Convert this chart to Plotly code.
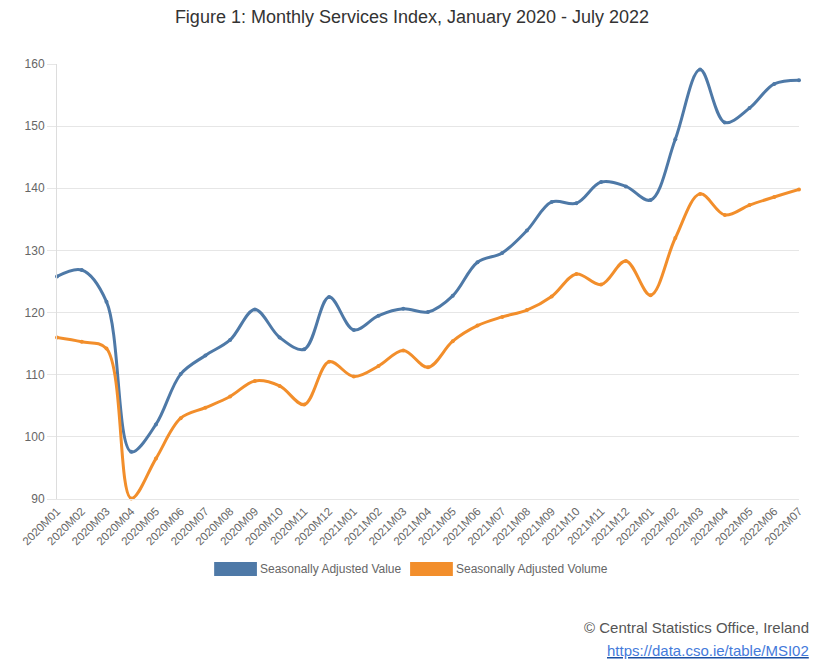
import plotly.graph_objects as go

months = [f"{y}M{m:02d}" for y in (2020, 2021, 2022) for m in range(1, 13)][:31]

value = [125.8, 126.85, 121.75, 97.6, 102.0, 110.1, 113.1, 115.6, 120.5, 116.0, 114.1, 122.5,
         117.2, 119.5, 120.6, 120.1, 122.7, 128.1, 129.6, 133.2, 137.8, 137.6, 141.0, 140.3,
         138.1, 147.9, 159.1, 150.6, 152.9, 156.8, 157.4]
volume = [116.0, 115.3, 114.2, 90.1, 96.5, 103.0, 104.7, 106.5, 109.0, 108.2, 105.2, 112.1,
          109.7, 111.4, 113.9, 111.2, 115.4, 117.9, 119.3, 120.4, 122.6, 126.2, 124.5, 128.3,
          122.8, 132.0, 139.1, 135.7, 137.3, 138.6, 139.8]
series_names = ["Seasonally Adjusted Value", "Seasonally Adjusted Volume"]
colors = ["#4E79A7", "#F28E2B"]

# page body has an 8px margin; work in reference-screen pixels and shift
OFF = 8
W, H = 832 - OFF, 672 - OFF
PL, PR, PT, PB = 53, 799, 64, 499  # plot area in screen pixels
L, T = PL - OFF, PT - OFF
R, B = W - (PR - OFF), H - (PB - OFF)
PW, PH = PR - PL, PB - PT

def px(x):
    return (x - PL) / PW

def py(y):
    return (PB - y) / PH

FONT = "Liberation Sans, Arial, sans-serif"

fig = go.Figure()
for name, vals, c in zip(series_names, [value, volume], colors):
    fig.add_trace(go.Scatter(
        x=months, y=vals, name=name, mode="lines+markers",
        line=dict(color=c, width=3, shape="spline", smoothing=1.0),
        marker=dict(color=c, size=4),
        cliponaxis=False, showlegend=False,
    ))

# manual legend
shapes = []
annotations = []
leg = [(211, 254, 255), (408, 451, 452)]
for (x0, x1, tx), name, c in zip(leg, series_names, colors):
    shapes.append(dict(type="rect", xref="paper", yref="paper",
                       x0=px(x0), x1=px(x1), y0=py(576), y1=py(562),
                       fillcolor=c, line=dict(width=0)))
    annotations.append(dict(xref="paper", yref="paper", x=px(tx), y=py(569),
                            xanchor="left", yanchor="middle", showarrow=False,
                            text=name, font=dict(family=FONT, size=12, color="#666666")))

annotations.append(dict(xref="paper", yref="paper", x=px(811), y=py(627),
                        xanchor="right", yanchor="middle", showarrow=False,
                        text="© Central Statistics Office, Ireland",
                        font=dict(family=FONT, size=15, color="#555555")))
annotations.append(dict(xref="paper", yref="paper", x=px(811), y=py(650),
                        xanchor="right", yanchor="middle", showarrow=False,
                        text='<a href="https://data.cso.ie/table/MSI02">https://data.cso.ie/table/MSI02</a>',
                        font=dict(family=FONT, size=15, color="#1a4fa3", lineposition="under")))

fig.update_layout(
    width=W, height=H,
    margin=dict(l=L, r=R, t=T, b=B),
    paper_bgcolor="white", plot_bgcolor="white",
    title=dict(text="Figure 1: Monthly Services Index, January 2020 - July 2022",
               x=(412 - OFF) / W, xanchor="center", y=1, yanchor="top", pad=dict(t=2),
               font=dict(family=FONT, size=18, color="#333333")),
    shapes=shapes, annotations=annotations,
    font=dict(family=FONT),
)
fig.update_xaxes(
    type="category", range=[0, len(months) - 1],
    tickangle=-45, tickfont=dict(family=FONT, size=11.5, color="#666666"),
    showgrid=False, showline=True, linecolor="#e6e6e6", linewidth=1,
    ticks="", zeroline=False,
)
fig.update_yaxes(
    range=[90, 160], dtick=10, tick0=90,
    showgrid=True, gridcolor="#e6e6e6", gridwidth=1,
    showline=True, linecolor="#dddddd", linewidth=1,
    ticks="outside", ticklen=9, tickcolor="#e6e6e6",
    tickfont=dict(family=FONT, size=12, color="#666666"),
    zeroline=False,
)

fig.write_html("out.html")
